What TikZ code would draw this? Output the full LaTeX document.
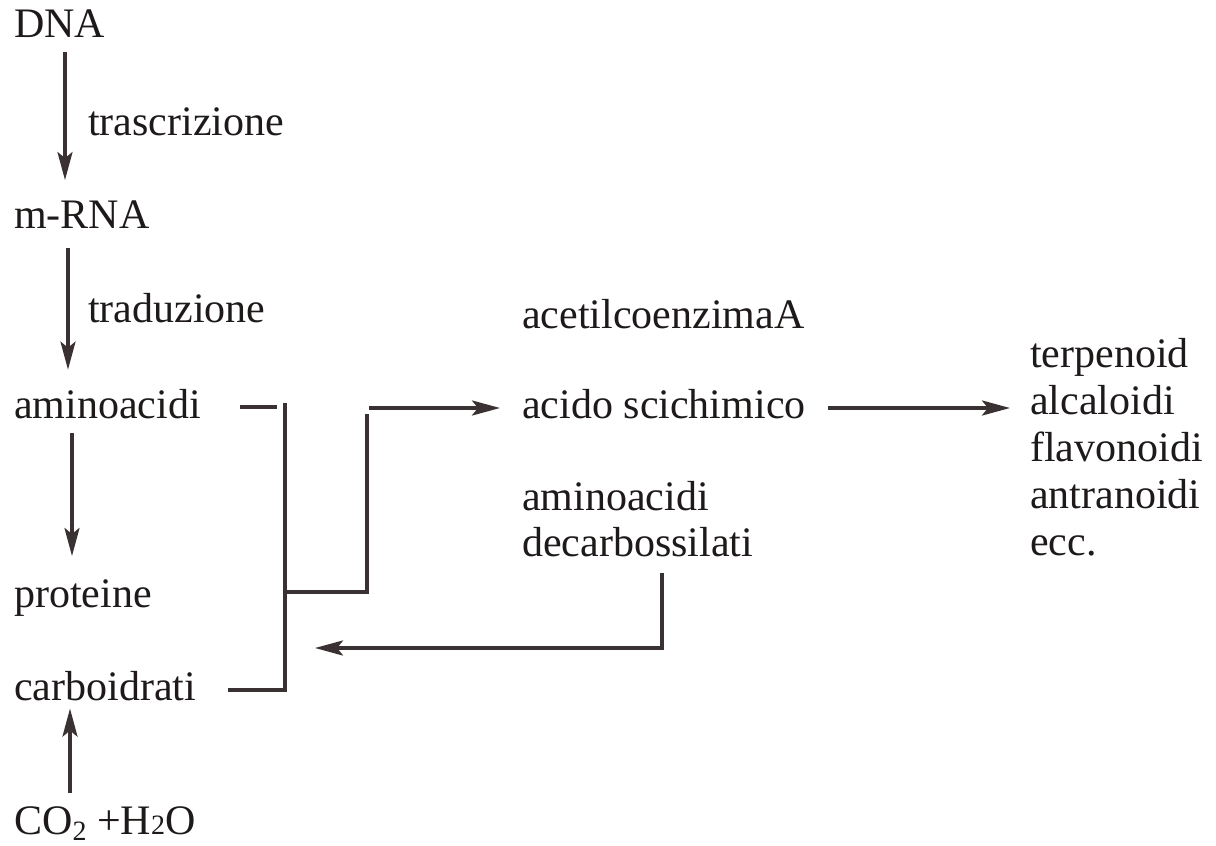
\documentclass[tikz,border=0pt]{standalone}
\usepackage{fontspec}
\setmainfont{Liberation Serif}
\usetikzlibrary{arrows.meta,calc}
\definecolor{ink}{HTML}{1E1A1A}
\definecolor{stroke}{HTML}{3A3232}
\begin{document}
\begin{tikzpicture}[x=1pt,y=-1pt,
  lbl/.style={anchor=base west,inner sep=0pt,text=ink,font=\fontsize{42}{48}\selectfont},
  ln/.style={draw=stroke,line width=3.4pt},
  arr/.style={ln,-{Stealth[length=28pt,width=15pt,inset=6pt]}}]
\useasboundingbox[fill=white] (0,0) rectangle (1216,846);

% left column: DNA to proteins, and carbohydrates
\node[lbl] (dna)   at (14,37)  {DNA};
\node[lbl] (trasc) at (88,135) {trascrizione};
\node[lbl] (mrna)  at (14,228) {m-RNA};
\node[lbl] (trad)  at (88,322) {traduzione};
\node[lbl] (amino) at (14,418) {aminoacidi};
\node[lbl] (prot)  at (14,607) {proteine};
\node[lbl] (carbo) at (14,700) {carboidrati};
\node[lbl] (co2)   at (14,834) {CO\raisebox{-6pt}{\fontsize{28}{30}\selectfont 2} +H{\fontsize{28}{30}\selectfont 2}O};

% middle column: precursors
\node[lbl] (acetil) at (522,328) {acetilcoenzimaA};
\node[lbl] (acido)  at (522,418) {acido scichimico};
\node[lbl] (amdec)  at (522,510) {aminoacidi};
\node[lbl] (dec)    at (522,556) {decarbossilati};

% right column: secondary metabolites
\node[lbl] (terp) at (1030,367) {terpenoid};
\node[lbl] (alc)  at (1030,414) {alcaloidi};
\node[lbl] (flav) at (1030,461) {flavonoidi};
\node[lbl] (antr) at (1030,508) {antranoidi};
\node[lbl] (ecc)  at (1030,555) {ecc.};

% vertical arrows of the left column
\coordinate (xa) at (65,0);
\coordinate (xb) at (68,0);
\coordinate (xc) at (72,0);
\coordinate (xd) at (70,0);
\draw[arr,shorten <=15pt,shorten >=20pt] (dna.south -| xa) -- (mrna.north -| xa);
\draw[arr,shorten <=20pt,shorten >=19pt] (mrna.south -| xb) -- (amino.north -| xb);
\draw[arr,shorten <=14pt,shorten >=23pt] (amino.south -| xc) -- (prot.north -| xc);
\draw[arr,shorten <=13pt,shorten >=8pt] (co2.north -| xd) -- (carbo.south -| xd);

% bracket joining amino acids and carbohydrates
\coordinate (aL) at (240,407);
\coordinate (aR) at (277,407);
\coordinate (cL) at (228,690);
\coordinate (bT) at (285,403);
\coordinate (bB) at (285,692);
\coordinate (bJ) at (285,592);
\coordinate (kB) at (367,592);
\coordinate (kT) at (367,414);
\coordinate (kA) at (369,408);
\draw[ln] (bT) -- (bB);
\draw[ln] (aL) -- (aR);
\draw[ln] (cL) -- (cL -| bB);
\draw[ln] (bJ) -- (kB) -- (kT);
\draw[arr,shorten >=22pt] (kA) -- (acido.west |- kA);

% shikimic acid to secondary metabolites
\coordinate (sA) at (828,408);
\draw[arr,shorten >=20pt] (sA) -- (alc.west |- sA);

% decarboxylated amino acids back to the bracket
\coordinate (dC) at (662,648);
\coordinate (dE) at (315,648);
\draw[arr,shorten <=16pt] (dec.south -| dC) -- (dC) -- (dE);
\end{tikzpicture}
\end{document}
